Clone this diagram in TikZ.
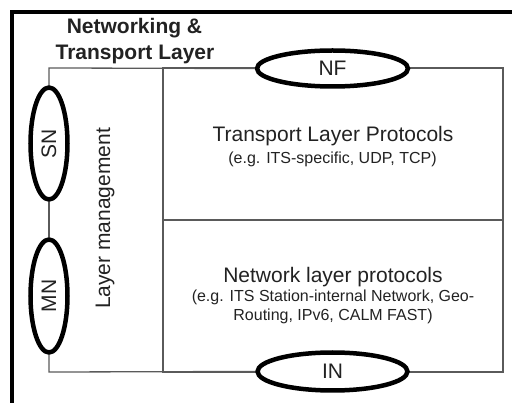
\documentclass[tikz,border=0pt]{standalone}
\usepackage{fontspec}
\setmainfont{Liberation Sans}
\usetikzlibrary{shapes.geometric}

\definecolor{inkgray}{HTML}{222222}
\definecolor{boxline}{HTML}{5A5A5A}

\tikzset{
  frameline/.style={line width=4pt, black},
  boxedge/.style={line width=1.3pt, boxline},
  cell/.style={draw=boxline, line width=1.3pt, minimum width=340pt, minimum height=152pt, inner sep=0pt},
  iface/.style={ellipse, draw=black, line width=4.5pt, fill=white, inner sep=0pt,
                text=inkgray, font=\fontsize{21}{24}\selectfont},
  bigtext/.style={anchor=base, text=inkgray, font=\fontsize{21}{24}\selectfont, inner sep=0pt},
  smalltext/.style={anchor=base, text=inkgray, font=\fontsize{16}{19}\selectfont, inner sep=0pt},
  titletext/.style={anchor=base, text=inkgray, font=\bfseries\fontsize{21}{24}\selectfont, inner sep=0pt}
}

\begin{document}
\begin{tikzpicture}[x=1pt, y=-1pt]
  \useasboundingbox (0,0) rectangle (512,403);

  % outer frame (left and top edges)
  \coordinate (framebl) at (12,410);
  \coordinate (framecorner) at (12,12);
  \coordinate (frametr) at (520,12);
  \draw[frameline] (framebl) -- (framecorner) -- (frametr);

  % title
  \node[titletext] (title1) at (134.5,34) {Networking \&};
  \node[titletext] (title2) at (135,60) {Transport Layer};

  % protocol cells
  \node[cell] (transportcell) at (333,144) {};
  \node[cell] (networkcell) at (333,296) {};

  % corners of the layer box
  \coordinate (tl) at (49,68);
  \coordinate (bl) at (49,372);

  % divider between management column and protocol cells
  \draw[boxedge] (transportcell.north west) -- (networkcell.south west);

  % interface ellipses
  \node[iface, minimum width=151pt, minimum height=36pt] (NF) at (332.5,68.5) {NF};
  \node[iface, minimum width=150pt, minimum height=38pt] (IN) at (332.5,371.5) {IN};
  \node[iface, rotate=90, minimum width=112pt, minimum height=37pt] (SN) at (49,143.5) {SN};
  \node[iface, rotate=90, minimum width=113pt, minimum height=37pt] (MN) at (49,296) {MN};

  % connectors round the management column
  \draw[boxedge] (SN.east) -- (tl) -- (NF.west);
  \draw[boxedge] (SN.west) -- (MN.east);
  \draw[boxedge] (MN.west) -- (bl) -- (IN.west);

  % layer management label
  \node[bigtext, rotate=90] (lm) at (110,218.5) {Layer management};

  % cell texts
  \node[bigtext] (tp1) at (333,141.5) {Transport Layer Protocols};
  \node[smalltext] (tp2) at (332.5,164) {(e.g. ITS-specific, UDP, TCP)};
  \node[bigtext] (np1) at (333,282.5) {Network layer protocols};
  \node[smalltext] (np2) at (333,302) {(e.g. ITS Station-internal Network, Geo-};
  \node[smalltext] (np3) at (333,321) {Routing, IPv6, CALM FAST)};
\end{tikzpicture}
\end{document}
